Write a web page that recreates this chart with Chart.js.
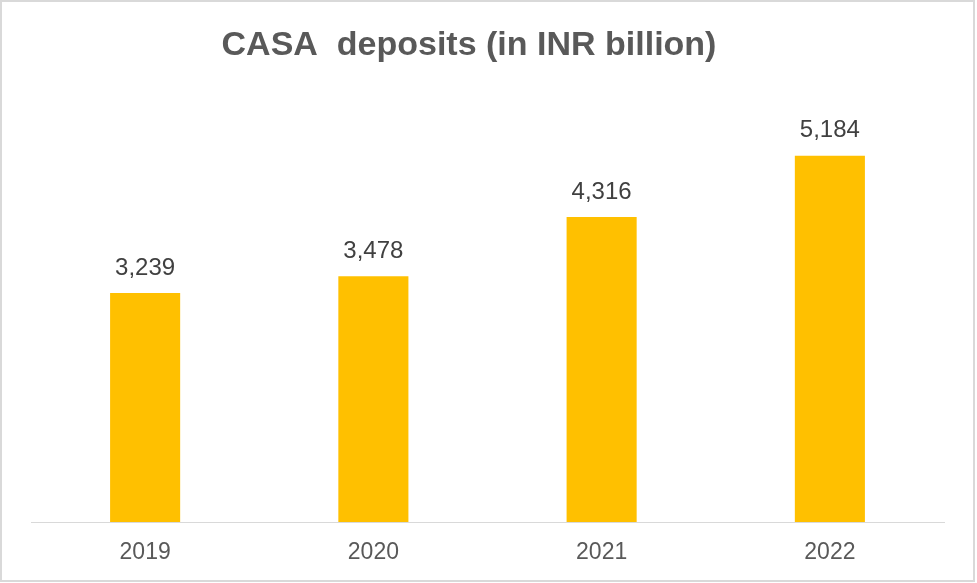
<!DOCTYPE html>
<html>
<head>
<meta charset="utf-8">
<script src="https://cdn.jsdelivr.net/npm/chart.js@4/dist/chart.umd.min.js"></script>
<style>
html,body{margin:0;padding:0;background:#fff;}
#wrap{position:absolute;left:0;top:0;width:977px;height:583px;}
#frame{position:absolute;left:0;top:0;width:971px;height:578px;border:2px solid #d9d9d9;pointer-events:none;}
</style>
</head>
<body>
<div id="wrap"><canvas id="c" width="977" height="583"></canvas></div>
<div id="frame"></div>
<script>
const categories = ["2019", "2020", "2021", "2022"];
const casaDeposits = [3239, 3478, 4316, 5184];
const chartTitle = "CASA  deposits (in INR billion)";

const labelPlugin = {
  id: 'valueLabels',
  afterDatasetsDraw(chart) {
    const ctx = chart.ctx;
    const meta = chart.getDatasetMeta(0);
    ctx.save();
    ctx.font = '24px "Liberation Sans", Arial, sans-serif';
    ctx.fillStyle = '#404040';
    ctx.textAlign = 'center';
    ctx.textBaseline = 'middle';
    meta.data.forEach((bar, i) => {
      ctx.fillText(casaDeposits[i].toLocaleString('en-US'), bar.x, bar.y - 25);
    });
    ctx.restore();
  }
};

const titlePlugin = {
  id: 'offsetTitle',
  afterDraw(chart) {
    const ctx = chart.ctx;
    ctx.save();
    ctx.font = 'bold 34px "Liberation Sans", Arial, sans-serif';
    ctx.fillStyle = '#595959';
    ctx.textAlign = 'center';
    ctx.textBaseline = 'middle';
    ctx.fillText(chartTitle, 469, 46);
    ctx.restore();
  }
};

new Chart(document.getElementById('c'), {
  type: 'bar',
  data: {
    labels: categories,
    datasets: [{
      data: casaDeposits,
      backgroundColor: '#FFC000',
      borderWidth: 0,
      categoryPercentage: 1,
      barPercentage: 0.307
    }]
  },
  options: {
    responsive: false,
    animation: false,
    devicePixelRatio: 1,
    layout: { padding: { left: 31, right: 33, top: 98, bottom: 0 } },
    plugins: {
      legend: { display: false },
      tooltip: { enabled: false },
      title: { display: false }
    },
    scales: {
      x: {
        grid: { display: false, drawTicks: false },
        border: { display: true, color: '#d9d9d9', width: 1 },
        ticks: {
          color: '#595959',
          padding: 16.7,
          font: { family: '"Liberation Sans", Arial, sans-serif', size: 23 }
        }
      },
      y: {
        display: false,
        min: 0,
        max: 6000
      }
    }
  },
  plugins: [labelPlugin, titlePlugin]
});
</script>
</body>
</html>
